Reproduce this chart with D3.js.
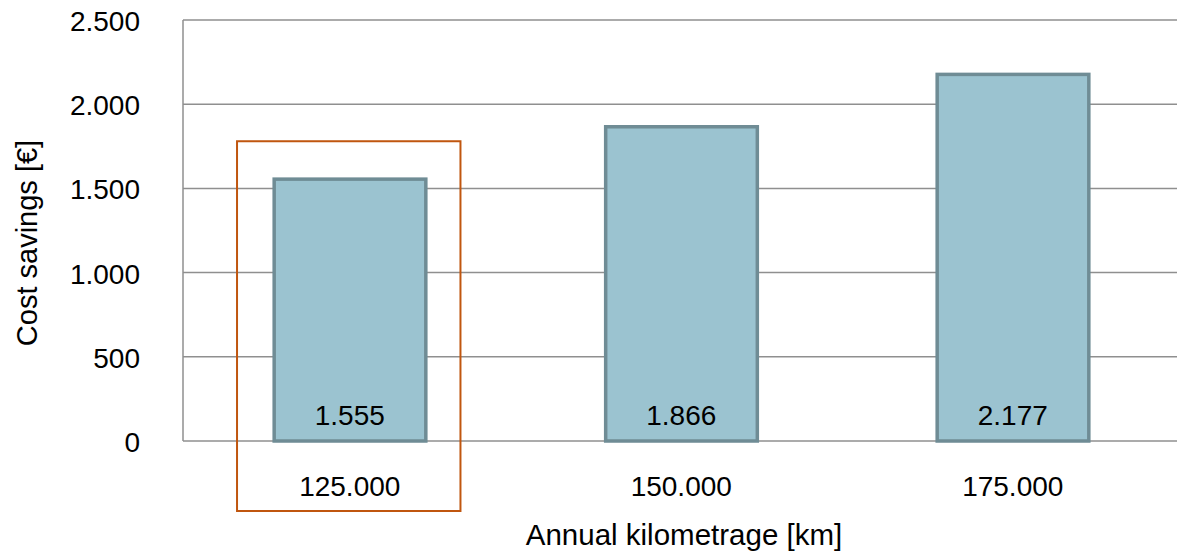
<!DOCTYPE html>
<html><head><meta charset="utf-8">
<script src="https://cdn.jsdelivr.net/npm/d3@7"></script>
<style>body{margin:0;background:#fff}svg{display:block}text{font-family:"Liberation Sans",Arial,sans-serif;fill:#000}</style>
</head><body><svg id="c" width="1177" height="556"></svg>
<script>
const categories = ["125.000","150.000","175.000"];
const values = [1555,1866,2177];
const valueLabels = ["1.555","1.866","2.177"];
const yTicks = [0,500,1000,1500,2000,2500];
const yTickLabels = ["0","500","1.000","1.500","2.000","2.500"];
const highlightCategory = "125.000";
const highlightTopValue = 1780;

const svg = d3.select("#c");
const L=183, R=1177.5, T=20, B=441;
const x = d3.scaleBand().domain(categories).range([L,R]).paddingInner(0.535).paddingOuter(0.2675);
const y = d3.scaleLinear().domain([0,2500]).range([B,T]);

// gridlines
svg.append("g").selectAll("line").data(yTicks).join("line")
  .attr("x1",L).attr("x2",1177).attr("y1",d=>y(d)).attr("y2",d=>y(d))
  .attr("stroke","#8f8f8f").attr("stroke-width",1.5);
// left axis line
svg.append("line").attr("x1",L).attr("x2",L).attr("y1",T).attr("y2",B)
  .attr("stroke","#8f8f8f").attr("stroke-width",1.5);

// y tick labels
svg.append("g").selectAll("text").data(yTicks).join("text")
  .attr("x",140).attr("y",d=>y(d)+11).attr("text-anchor","end")
  .attr("font-size",28).text((d,i)=>yTickLabels[i]);

// bars
svg.append("g").selectAll("rect").data(values).join("rect")
  .attr("x",(d,i)=>x(categories[i])+2.5).attr("width",x.bandwidth()-2.5)
  .attr("y",d=>y(d)).attr("height",d=>y(0)-y(d))
  .attr("fill","#9bc3d0").attr("stroke","#6f8c95").attr("stroke-width",3.5);

// value labels
svg.append("g").selectAll("text").data(values).join("text")
  .attr("x",(d,i)=>x(categories[i])+x.bandwidth()/2+1).attr("y",425)
  .attr("text-anchor","middle").attr("font-size",28).text((d,i)=>valueLabels[i]);

// category labels
svg.append("g").selectAll("text").data(categories).join("text")
  .attr("x",d=>x(d)+x.bandwidth()/2+1).attr("y",496)
  .attr("text-anchor","middle").attr("font-size",28).text(d=>d);

// highlight box
const hc = x(highlightCategory)+x.bandwidth()/2;
const hw = x.step()*0.674;
svg.append("rect").attr("x",hc-hw/2).attr("y",y(highlightTopValue))
  .attr("width",hw).attr("height",511-y(highlightTopValue))
  .attr("fill","none").attr("stroke","#c0560f").attr("stroke-width",2);

// axis titles
svg.append("text").attr("x",684).attr("y",545).attr("text-anchor","middle")
  .attr("font-size",29.5).text("Annual kilometrage [km]");
svg.append("text").attr("transform","translate(37,243) rotate(-90)")
  .attr("text-anchor","middle").attr("font-size",29).text("Cost savings [€]");
</script></body></html>
